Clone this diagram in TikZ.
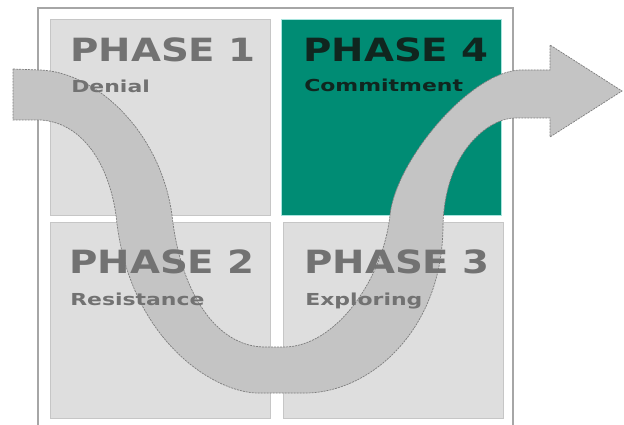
\documentclass[tikz,border=0pt]{standalone}
\usepackage{fontspec}
\setmainfont{DejaVu Sans}

\definecolor{cellgray}{HTML}{DEDEDE}
\definecolor{cellline}{HTML}{C6C6C6}
\definecolor{phasefour}{HTML}{008C74}
\definecolor{tealline}{HTML}{A8E4DE}
\definecolor{txtgray}{HTML}{727272}
\definecolor{txtdark}{HTML}{10261F}
\definecolor{arrowgray}{HTML}{C4C4C4}
\definecolor{arrowline}{HTML}{7C7C7C}
\definecolor{framegray}{HTML}{A6A6A6}

\begin{document}
\begin{tikzpicture}[x=1pt, y=-1pt,
  cell/.style={draw=cellline, fill=cellgray, line width=1pt, inner sep=0pt,
    minimum width=220pt, minimum height=195pt},
  title/.style={anchor=base west, inner sep=0pt, text=txtgray, xscale=1.21,
    font=\fontsize{32}{32}\selectfont\bfseries},
  sub/.style={anchor=base west, inner sep=0pt, text=txtgray, xscale=1.33,
    font=\fontsize{16.5}{16.5}\selectfont\bfseries}]

\useasboundingbox (0,0) rectangle (624,425);
\draw[framegray, line width=1.8pt] (38,425) -- (38,8) -- (513,8) -- (513,425);

\node[cell] (cell1) at (160,117.5) {};
\node[cell, fill=phasefour, draw=tealline] (cell4) at (391.5,117.5) {};
\node[cell, minimum height=196pt] (cell2) at (160,320) {};
\node[cell, minimum height=196pt] (cell3) at (393,320) {};

% -------- the arrow -----------
\filldraw[fill=arrowgray, draw=arrowline, line width=0.7pt, dash pattern=on 2pt off 1pt]
  (13,69) -- (40,70) .. controls (95,72) and (160,130) .. (172,215)
  .. controls (180,290) and (215,347) .. (265,347) -- (284,347)
  .. controls (335,347) and (383,280) .. (390,215)
  .. controls (396,160) and (470,72) .. (520,70) -- (550,70) -- (550,45) -- (622,91)
  -- (550,137) -- (550,118) -- (515,118)
  .. controls (490,118) and (445,150) .. (443,225)
  .. controls (443,330) and (370,393) .. (305,393) -- (258,393)
  .. controls (215,393) and (128,340) .. (116,215)
  .. controls (108,160) and (80,122) .. (40,120) -- (13,120) -- cycle;

% -------- labels -----------
\node[title] (title1) at (70,62) {PHASE 1};
\node[sub] (sub1) at (71,93) {Denial};
\node[title, text=txtdark] (title4) at (303,62) {PHASE 4};
\node[sub, text=txtdark] (sub4) at (304,92) {Commitment};
\node[title] (title2) at (69,273) {PHASE 2};
\node[sub] (sub2) at (70,305) {Resistance};
\node[title] (title3) at (304,273) {PHASE 3};
\node[sub] (sub3) at (305,305) {Exploring};
\end{tikzpicture}
\end{document}
